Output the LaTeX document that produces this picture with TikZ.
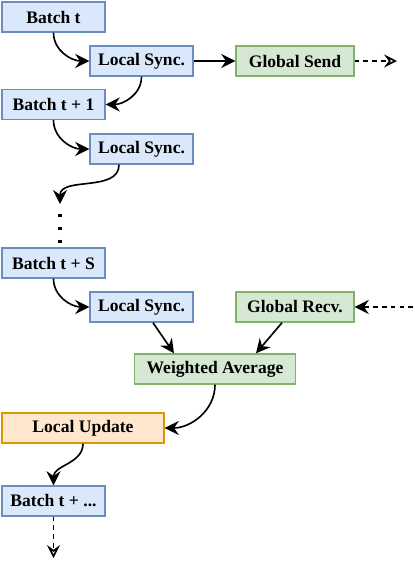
\documentclass[tikz,border=0pt]{standalone}
\usepackage{fontspec}
\setmainfont{Liberation Serif}
\usetikzlibrary{arrows.meta,positioning,calc}
\definecolor{batchblue}{HTML}{DAE8FC}
\definecolor{batchline}{HTML}{6C8EBF}
\definecolor{globalgreen}{HTML}{D5E8D4}
\definecolor{globalline}{HTML}{82B366}
\definecolor{updateorange}{HTML}{FFE6CC}
\definecolor{updateline}{HTML}{D79B00}
\tikzset{
  box/.style={draw,line width=1.2pt,minimum height=0.9cm,inner sep=0pt,
    font=\fontsize{15}{17}\selectfont\bfseries},
  localbox/.style={box,fill=batchblue,draw=batchline,minimum width=3.09cm},
  globalbox/.style={box,fill=globalgreen,draw=globalline,minimum width=3.54cm},
  updatebox/.style={box,fill=updateorange,draw=updateline,minimum width=4.86cm},
  flow/.style={line width=1.4pt,-{Stealth[length=12pt,width=12pt,inset=4pt]}},
  remote/.style={line width=1.4pt,dash pattern=on 4pt off 3.5pt,
    -{Stealth[open,length=11pt,width=11pt,inset=4pt]}},
}

\begin{document}
\begin{tikzpicture}[x=0.03cm,y=0.03cm]
  \useasboundingbox (0,0) rectangle (415,-577);

  % Batches and local steps
  \node[localbox] (bt)   at (53.5,-17)   {Batch t};
  \node[localbox] (ls1)  at (141.5,-61)  {Local Sync.};
  \node[globalbox] (gsend) at (295,-61)  {Global Send};
  \node[localbox] (bt1)  at (53.5,-104.5) {Batch t + 1};
  \node[localbox] (ls2)  at (141.5,-149) {Local Sync.};
  \node[localbox] (bts)  at (53.5,-263)  {Batch t + S};
  \node[localbox] (ls3)  at (141.5,-307) {Local Sync.};
  \node[globalbox] (grecv) at (295,-307) {Global Recv.};
  \node[globalbox,minimum width=4.83cm] (wavg) at (215,-369) {Weighted Average};
  \node[updatebox] (lupd) at (83,-428)   {Local Update};
  \node[localbox] (btn)  at (53.5,-501)  {Batch t + ...};

  % Free ends
  \coordinate (sendEnd)  at (397,-61);
  \coordinate (recvStart) at (413,-307);
  \coordinate (dotsTop)  at (60,-204);
  \coordinate (dotsA)    at (60,-213.5);
  \coordinate (dotsB)    at (60,-244);
  \coordinate (nextEnd)  at (53.5,-558);

  % Connectors
  \draw[flow] (bt.south) to[out=-90,in=180] (ls1.west);
  \draw[flow] (ls1.east) -- (gsend.west);
  \draw[remote] (gsend.east) -- (sendEnd);
  \draw[flow] (ls1.south) to[out=-90,in=0] (bt1.east);
  \draw[flow] (bt1.south) to[out=-90,in=180] (ls2.west);
  \draw[flow] ([xshift=-0.675cm]ls2.south) to[out=-90,in=90] (dotsTop);
  \draw[line width=3pt,dash pattern=on 0.09cm off 0.3cm] (dotsA) -- (dotsB);
  \draw[flow] (bts.south) to[out=-90,in=180] (ls3.west);
  \draw[remote,-{Stealth[length=12pt,width=12pt,inset=4pt]}] (recvStart) -- (grecv.east);
  \draw[flow] ([xshift=0.345cm]ls3.south) -- ([xshift=-1.23cm]wavg.north);
  \draw[flow] ([xshift=-0.39cm]grecv.south) -- ([xshift=1.23cm]wavg.north);
  \draw[flow] (wavg.south) to[out=-90,in=0] (lupd.east);
  \draw[flow] (lupd.south) to[out=-90,in=90] (btn.north);
  \draw[remote] (btn.south) -- (nextEnd);
\end{tikzpicture}
\end{document}
